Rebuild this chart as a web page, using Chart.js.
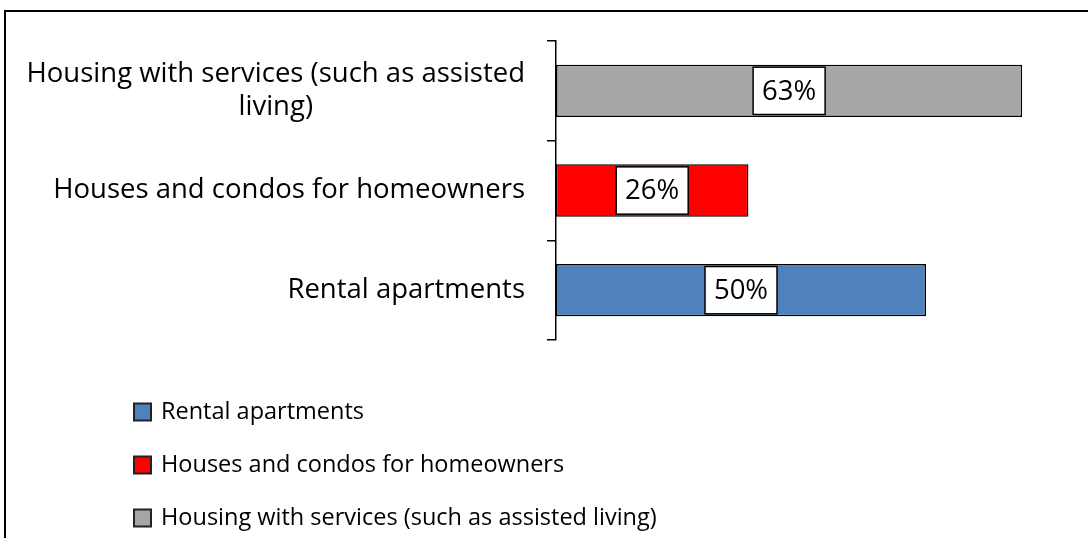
<!DOCTYPE html>
<html>
<head>
<meta charset="utf-8">
<script src="https://cdn.jsdelivr.net/npm/chart.js@4"></script>
<style>
  html, body { margin: 0; padding: 0; background: #fff; }
</style>
</head>
<body>
<canvas id="myChart" width="1088" height="538"></canvas>
<script>
// categories, top to bottom (already wrapped the way the original wraps them)
const categories = [
    ['Housing with services (such as assisted', 'living)'],
    ['Houses and condos for homeowners'],
    ['Rental apartments']
];
const seriesNames = ['Rental apartments', 'Houses and condos for homeowners', 'Housing with services (such as assisted living)'];
const rentalValues = [null, null, 50];
const houseValues = [null, 26, null];
const servicesValues = [63, null, null];
const seriesColors = ['#4F81BD', '#FF0000', '#A6A6A6'];
const xMax = 70;

const FONT = '"Open Sans", sans-serif';

// outer frame (only left and top edges are inside the picture)
const framePlugin = {
    id: 'frame',
    beforeDraw(chart) {
        const ctx = chart.ctx;
        ctx.save();
        ctx.strokeStyle = '#000';
        ctx.lineWidth = 2;
        ctx.beginPath();
        ctx.moveTo(5, 540);
        ctx.lineTo(5, 11);
        ctx.lineTo(1090, 11);
        ctx.stroke();
        ctx.restore();
    }
};

// category labels: right-aligned block, lines centred inside it
const catLabelPlugin = {
    id: 'catLabels',
    afterDraw(chart) {
        const ctx = chart.ctx;
        const y = chart.scales.y;
        const right = chart.chartArea.left - 31;
        const lh = 33;
        ctx.save();
        ctx.font = '27.5px ' + FONT;
        ctx.fillStyle = '#000';
        ctx.textAlign = 'center';
        ctx.textBaseline = 'middle';
        categories.forEach((lines, i) => {
            const cy = y.getPixelForValue(i);
            const w = Math.max(...lines.map(l => ctx.measureText(l).width));
            const cx = right - w / 2;
            const y0 = cy - (lines.length - 1) * lh / 2;
            lines.forEach((l, j) => ctx.fillText(l, cx, y0 + j * lh));
        });
        ctx.restore();
    }
};

// value labels in white boxes
const valueLabelPlugin = {
    id: 'valueLabels',
    afterDatasetsDraw(chart) {
        const ctx = chart.ctx;
        ctx.save();
        ctx.font = '27.5px ' + FONT;
        ctx.textAlign = 'center';
        ctx.textBaseline = 'middle';
        chart.data.datasets.forEach((ds, di) => {
            const meta = chart.getDatasetMeta(di);
            meta.data.forEach((bar, i) => {
                const v = ds.data[i];
                if (v == null) return;
                const txt = v + '%';
                const cx = (bar.x + bar.base) / 2;
                const bw = 72, bh = bar.height - 5;
                ctx.fillStyle = '#fff';
                ctx.fillRect(cx - bw / 2, bar.y - bh / 2, bw, bh);
                ctx.strokeStyle = '#000';
                ctx.lineWidth = 1.5;
                ctx.strokeRect(cx - bw / 2, bar.y - bh / 2, bw, bh);
                ctx.fillStyle = '#000';
                ctx.fillText(txt, cx, bar.y + 1);
            });
        });
        ctx.restore();
    }
};

// vertical legend under the plot
const legendPlugin = {
    id: 'stackLegend',
    afterDraw(chart) {
        const ctx = chart.ctx;
        const x0 = 134, rowY = [412, 465, 518], box = 17;
        ctx.save();
        ctx.font = '23.5px ' + FONT;
        ctx.textBaseline = 'middle';
        ctx.textAlign = 'left';
        chart.data.datasets.forEach((ds, i) => {
            const yy = rowY[i];
            ctx.fillStyle = ds.backgroundColor;
            ctx.fillRect(x0, yy - box / 2, box, box);
            ctx.strokeStyle = '#222';
            ctx.lineWidth = 2;
            ctx.strokeRect(x0, yy - box / 2, box, box);
            ctx.fillStyle = '#000';
            ctx.fillText(ds.label, x0 + box + 10, yy);
        });
        ctx.restore();
    }
};

const datasetValues = [rentalValues, houseValues, servicesValues];

new Chart(document.getElementById('myChart'), {
    type: 'bar',
    data: {
        labels: categories.map(l => l.join(' ')),
        datasets: seriesNames.map((name, i) => ({
            label: name,
            data: datasetValues[i],
            backgroundColor: seriesColors[i],
            borderColor: '#000',
            borderWidth: 1.5,
            borderSkipped: false,
            barPercentage: 0.525,
            categoryPercentage: 1
        }))
    },
    options: {
        indexAxis: 'y',
        responsive: false,
        animation: false,
        layout: { padding: { top: 41, bottom: 198, left: 0, right: 14 } },
        plugins: {
            legend: { display: false },
            tooltip: { enabled: false }
        },
        scales: {
            x: { stacked: true, min: 0, max: xMax, display: false },
            y: {
                stacked: true,
                grid: { drawOnChartArea: false, drawTicks: true, tickLength: 9, color: '#000', lineWidth: 1.5 },
                border: { color: '#000', width: 1.5 },
                ticks: { display: false },
                afterFit(s) { s.width = 556; }
            }
        }
    },
    plugins: [framePlugin, catLabelPlugin, valueLabelPlugin, legendPlugin]
});
</script>
</body>
</html>
